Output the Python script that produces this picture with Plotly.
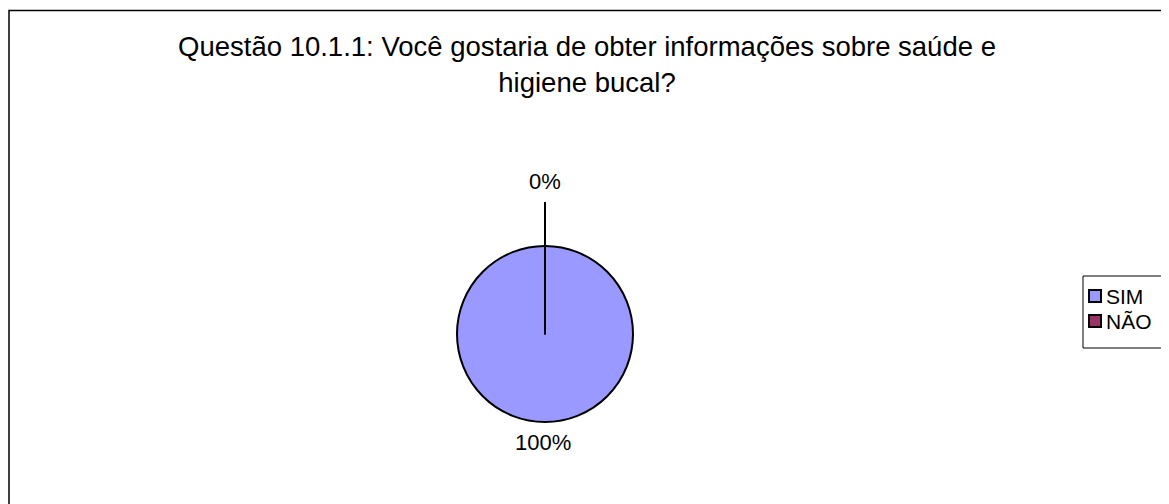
import plotly.graph_objects as go

# data
labels = ["SIM", "NÃO"]
values = [100, 0]
colors = ["#9999FF", "#993366"]
title_text = "Questão 10.1.1: Você gostaria de obter informações sobre saúde e<br>higiene bucal?"

# the page adds an 8px body margin, so the figure is sized to the visible area
W, H = 1161, 496
FONT = "Liberation Sans, Arial, sans-serif"


def px(x):
    return (x - 8) / W


def py(y):
    return 1 - (y - 8) / H


# pie placement in page pixels
cx, cy, r = 545, 334, 88

total = sum(values)
pct = [v / total * 100 for v in values]

fig = go.Figure(go.Pie(
    labels=labels,
    values=values,
    marker=dict(colors=colors, line=dict(color="black", width=2)),
    sort=False,
    direction="clockwise",
    rotation=0,
    textinfo="none",
    hoverinfo="label+percent",
    showlegend=False,
    domain=dict(x=[px(cx - r), px(cx + r)], y=[py(cy + r), py(cy - r)]),
))

# chart area border
fig.add_shape(type="rect", xref="paper", yref="paper",
              x0=px(9), x1=1.02, y0=-0.02, y1=py(10.5),
              line=dict(color="black", width=1.5), fillcolor="rgba(0,0,0,0)")

# 0% slice edge + leader line (zero slice sits at 12 o'clock)
fig.add_shape(type="line", xref="paper", yref="paper",
              x0=px(cx), x1=px(cx), y0=py(cy), y1=py(cy - r - 44),
              line=dict(color="black", width=2))

# percentage labels
fig.add_annotation(x=px(cx), y=py(181), xref="paper", yref="paper",
                   xanchor="center", yanchor="middle",
                   text=f"{pct[1]:.0f}%", showarrow=False,
                   font=dict(family=FONT, size=22, color="black"))
fig.add_annotation(x=px(cx - 2), y=py(442), xref="paper", yref="paper",
                   xanchor="center", yanchor="middle",
                   text=f"{pct[0]:.0f}%", showarrow=False,
                   font=dict(family=FONT, size=22, color="black"))

# legend box and entries
fig.add_shape(type="rect", xref="paper", yref="paper",
              x0=px(1083), x1=px(1167), y0=py(348), y1=py(276),
              line=dict(color="black", width=1), fillcolor="white")
for i, (lab, col) in enumerate(zip(labels, colors)):
    yc = 296 + 25 * i
    fig.add_shape(type="rect", xref="paper", yref="paper",
                  x0=px(1089), x1=px(1101), y0=py(yc + 6), y1=py(yc - 6),
                  line=dict(color="black", width=2), fillcolor=col)
    fig.add_annotation(x=px(1104), y=py(yc), xref="paper", yref="paper",
                       xanchor="left", yanchor="middle", text=lab,
                       showarrow=False,
                       font=dict(family=FONT, size=21, color="black"))

fig.update_layout(
    width=W, height=H,
    margin=dict(l=0, r=0, t=0, b=0),
    paper_bgcolor="white",
    plot_bgcolor="white",
    font=dict(family=FONT, color="black"),
    title=dict(text=title_text, x=px(587), xanchor="center",
               y=py(56), yanchor="top",
               font=dict(family=FONT, size=27.5, color="black")),
)

fig.write_html("out.html")
